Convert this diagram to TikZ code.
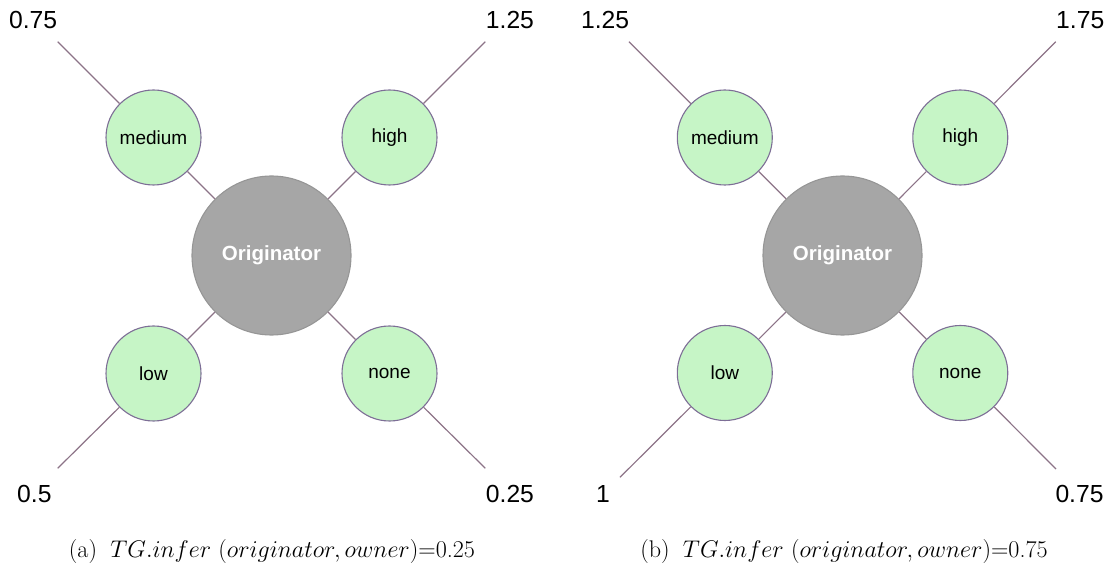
\RequirePackage{fix-cm}
\documentclass[tikz,border=0pt]{standalone}
\usepackage{fontspec}
\newfontfamily\hv{Liberation Sans}
\definecolor{leaffill}{RGB}{198,245,198}
\definecolor{leafedge}{RGB}{125,110,150}
\definecolor{origfill}{RGB}{166,166,166}
\definecolor{origedge}{RGB}{150,150,150}
\definecolor{linkcol}{RGB}{140,115,135}
\tikzset{
  leaf/.style={circle, draw=leafedge, fill=leaffill, line width=1.1pt, minimum size=95pt, inner sep=0pt, font=\hv\fontsize{19}{22}\selectfont},
  orig/.style={circle, draw=origedge, fill=origfill, line width=1.1pt, minimum size=159pt, inner sep=0pt, text=white, font=\hv\bfseries\fontsize{20.5}{24}\selectfont},
  link/.style={draw=linkcol, line width=1.2pt},
  val/.style={inner sep=0pt, font=\hv\fontsize{24.7}{30}\selectfont},
  subcap/.style={inner sep=0pt, anchor=base, font=\fontsize{24.1}{29}\selectfont}
}
\begin{document}
\begin{tikzpicture}[x=1pt, y=-1pt]
\useasboundingbox (0,0) rectangle (1112,577);
% ---- panel (a)
\node[orig] (aO) at (271.5,255.5) {Originator};
\node[leaf] (aM) at (153.5,137.5) {medium};
\node[leaf] (aH) at (389.5,137.5) {high};
\node[leaf] (aL) at (153.5,373.5) {low};
\node[leaf] (aN) at (389.5,373.5) {none};
\coordinate (aTL) at (57.7,41.7);
\coordinate (aTR) at (485.3,41.7);
\coordinate (aBL) at (57.7,468.3);
\coordinate (aBR) at (485.3,468.3);
\path[link] (aO) -- (aM) (aO) -- (aH) (aO) -- (aL) (aO) -- (aN);
\path[link] (aM) -- (aTL) (aH) -- (aTR) (aL) -- (aBL) (aN) -- (aBR);
\node[val, anchor=base east] (aV1) at (57.3,28.3) {0.75};
\node[val, anchor=base west] (aV2) at (485.7,28.3) {1.25};
\node[val, anchor=base east] (aV3) at (51.7,502.3) {0.5};
\node[val, anchor=base west] (aV4) at (485.7,502.3) {0.25};
\node[subcap] (aCap) at (272,557.5) {(a)\hspace{0.55em}$TG.infer$ $(originator,owner)$=0.25};
% ---- panel (b)
\node[orig] (bO) at (842.5,255.5) {Originator};
\node[leaf] (bM) at (724.8,137.5) {medium};
\node[leaf] (bH) at (960.3,137.5) {high};
\node[leaf] (bL) at (724.8,373) {low};
\node[leaf] (bN) at (960.3,373) {none};
\coordinate (bTL) at (629,41.7);
\coordinate (bTR) at (1055.7,41.7);
\coordinate (bBL) at (620,477.3);
\coordinate (bBR) at (1056,469);
\path[link] (bO) -- (bM) (bO) -- (bH) (bO) -- (bL) (bO) -- (bN);
\path[link] (bM) -- (bTL) (bH) -- (bTR) (bL) -- (bBL) (bN) -- (bBR);
\node[val, anchor=base east] (bV1) at (629.3,28.3) {1.25};
\node[val, anchor=base west] (bV2) at (1056,28.3) {1.75};
\node[val, anchor=base east] (bV3) at (610,502.3) {1};
\node[val, anchor=base west] (bV4) at (1055.3,502.3) {0.75};
\node[subcap] (bCap) at (844,557.5) {(b)\hspace{0.55em}$TG.infer$ $(originator,owner)$=0.75};
\end{tikzpicture}
\end{document}
